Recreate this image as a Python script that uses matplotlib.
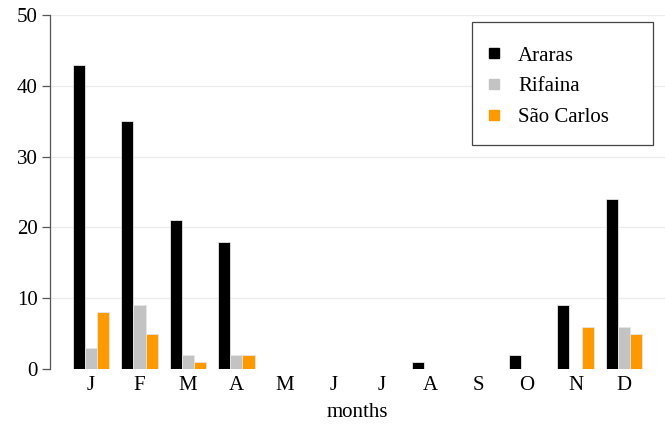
import matplotlib
matplotlib.use("Agg")
import matplotlib.pyplot as plt
import numpy as np
from matplotlib.lines import Line2D
from matplotlib.patches import Rectangle

months = ["J", "F", "M", "A", "M", "J", "J", "A", "S", "O", "N", "D"]
series_names = ["Araras", "Rifaina", "São Carlos"]
araras = [43, 35, 21, 18, 0, 0, 0, 1, 0, 2, 9, 24]
rifaina = [3, 9, 2, 2, 0, 0, 0, 0, 0, 0, 0, 6]
sao_carlos = [8, 5, 1, 2, 0, 0, 0, 0, 0, 0, 6, 5]
colors = ["#000000", "#c3c3c3", "#ff9900"]
yticks = [0, 10, 20, 30, 40, 50]

plt.rcParams['font.family'] = ['Liberation Serif', 'DejaVu Serif']

W, H = 665, 425
fig = plt.figure(figsize=(W / 100, H / 100), dpi=100)
ax = fig.add_axes([50/W, 1-369/H, 615/W, 354/H])

x = np.arange(len(months))
w = 0.25
for i, (vals, c) in enumerate(zip([araras, rifaina, sao_carlos], colors)):
    ax.bar(x + (i - 1) * w, vals, width=w, color=c, edgecolor="#e6e6e6",
           linewidth=0.6, zorder=3)

ax.set_xlim(-0.846, 11.846)
ax.set_ylim(0, 50)
ax.set_yticks(yticks)
ax.set_xticks(x)
ax.set_xticklabels(months)
for yv in yticks[1:]:
    ax.axhline(yv, color="#ebebeb", linewidth=0.9, zorder=1)

for s in ["top", "right", "bottom"]:
    ax.spines[s].set_visible(False)
ax.spines["left"].set_color("#555555")
ax.spines["left"].set_linewidth(0.9)
ax.tick_params(axis="y", length=6, width=0.9, color="#555555", labelsize=15, pad=3)
ax.tick_params(axis="x", length=0, labelsize=15, pad=5)
ax.set_xlabel("months", fontsize=15, labelpad=6)

# legend frame
fig.add_artist(Rectangle((472/W, 1-145/H), (653-472)/W, (145-22)/H,
                         transform=fig.transFigure, facecolor="white",
                         edgecolor="#444444", linewidth=0.9, zorder=5))

handles = [Line2D([], [], linestyle="none", marker="s", markersize=7.5,
                  markerfacecolor=c, markeredgecolor=c) for c in colors]
leg = fig.legend(handles, series_names, loc="upper left",
                 bbox_to_anchor=(489/W, 1-46/H), bbox_transform=fig.transFigure,
                 borderaxespad=0, borderpad=0, fontsize=15, frameon=False,
                 labelspacing=0.53, handlelength=0.5, handletextpad=0.9)
leg.set_zorder(6)

fig.savefig("out.png", dpi=100)
